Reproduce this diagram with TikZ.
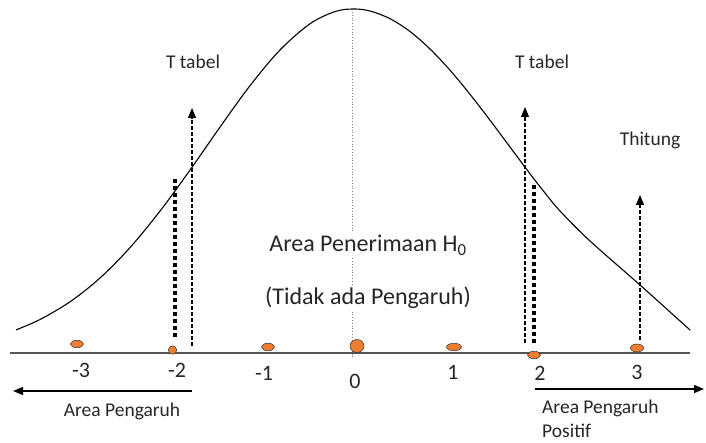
\documentclass[tikz,border=0pt]{standalone}
\usepackage{fontspec}
\setmainfont{Carlito}
\usetikzlibrary{arrows.meta}
\definecolor{titik}{HTML}{ED7D31}
\definecolor{sumbu}{HTML}{555555}

\begin{document}
\begin{tikzpicture}[x=1pt, y=-1pt, >={Triangle[width=8pt,length=10pt]},
    panah/.style={->, dashed, line width=1.1pt, dash pattern=on 4pt off 2pt},
    titikan/.style={line width=4.2pt, dash pattern=on 4pt off 3pt},
    teks/.style={font=\fontsize{19.5}{22}\selectfont, text=black!85, inner sep=1pt},
    tengah/.style={font=\fontsize{24}{28}\selectfont, text=black!85, fill=white, inner sep=2pt}]
    \useasboundingbox (0,0) rectangle (706,443);

    % -- Kurva normal --
    \draw[line width=1.1pt] plot[smooth, tension=0.55] coordinates {
        (16,329.9) (40,319.5) (70,301.8) (100,278) (130,247.6) (160,211.1)
        (190,170.1) (220,127.1) (250,85.7) (280,50) (310,23.8) (335,11.6)
        (353,9) (370,11) (390,18.7) (410,31.5) (430,49) (450,70.2) (470,94.3)
        (490,120.2) (510,147) (530,173.8) (545,193) (560,211) (590,241)
        (640,285) (690,330)};

    % Garis tengah
    \coordinate (puncak) at (352,12);
    \coordinate (pusat) at (352,358);
    \draw[dotted, gray, line width=0.8pt] (puncak) -- (pusat);

    % Sumbu
    \coordinate (ki) at (10,353);
    \coordinate (ka) at (690,353);
    \draw[sumbu, line width=1.6pt] (ki) -- (ka);

    % -- T tabel kiri --
    \coordinate (tki-a) at (192,346);
    \coordinate (tki-b) at (192,108);
    \draw[panah] (tki-a) -- (tki-b);
    \coordinate (dki-a) at (175,337);
    \coordinate (dki-b) at (175,177);
    \draw[titikan] (dki-a) -- (dki-b);
    \node[teks] (tabelki) at (193,62) {T tabel};

    % -- T tabel kanan --
    \coordinate (tka-a) at (525,343);
    \coordinate (tka-b) at (525,107);
    \draw[panah] (tka-a) -- (tka-b);
    \coordinate (dka-a) at (534,343);
    \coordinate (dka-b) at (534,183);
    \draw[titikan] (dka-a) -- (dka-b);
    \node[teks] (tabelka) at (542,62) {T tabel};

    % -- Thitung --
    \coordinate (th-a) at (640,340);
    \coordinate (th-b) at (640,195);
    \draw[panah] (th-a) -- (th-b);
    \node[teks] (hitung) at (650,140) {Thitung};

    % Teks tengah
    \node[tengah] (terima) at (368,245) {Area Penerimaan H\textsubscript{0}};
    \node[tengah] (tidak) at (368,298) {(Tidak ada Pengaruh)};

    % Titik data
    \foreach \x/\y/\rx/\ry in {77/344/6.5/3.8, 172.5/350/4.2/4.2, 268/347/6.5/3.8,
        357/346/7/6.5, 454/347/7.5/3.8, 534/355/6.5/3.8, 637/348/6.5/4}
        \filldraw[fill=titik, draw=black!80, line width=0.5pt] (\x,\y) ellipse ({\rx} and {\ry});

    % Label sumbu
    \foreach \n/\x/\y in {-3/81/370, -2/177/370, -1/264/373, 0/355/381, 1/453/372, 2/540/373, 3/637/372}
        \node[font=\fontsize{22}{24}\selectfont, text=black!85, inner sep=0pt] (lbl\x) at (\x,\y) {\n};

    % -- Area pengaruh --
    \coordinate (aki-a) at (192,391);
    \coordinate (aki-b) at (13,391);
    \draw[->, line width=1.6pt] (aki-a) -- (aki-b);
    \node[teks] (pengaruhki) at (122,411) {Area Pengaruh};

    \coordinate (aka-a) at (535,389);
    \coordinate (aka-b) at (704,389);
    \draw[->, line width=1.6pt] (aka-a) -- (aka-b);
    \node[teks, anchor=west] (pengaruhka) at (541,408) {Area Pengaruh};
    \node[teks, anchor=north west] (positif) at (541,423) {Positif};
\end{tikzpicture}
\end{document}
